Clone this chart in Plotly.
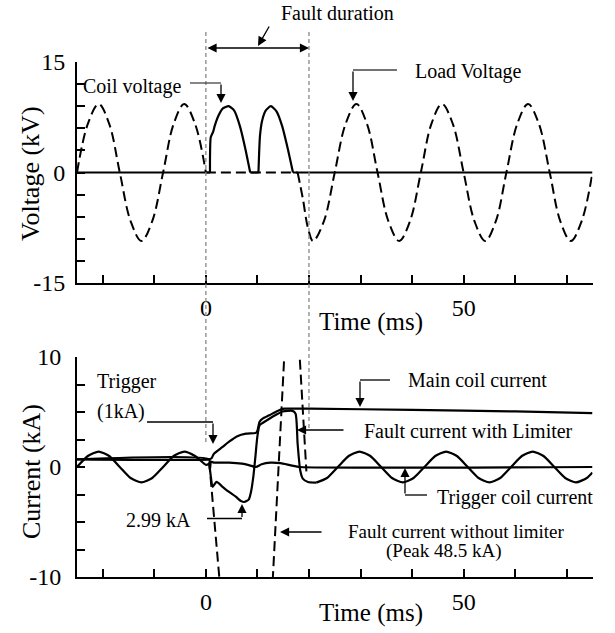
import plotly.graph_objects as go

# ---------------- data ----------------
# Top panel: load voltage (dashed), kV
load_v_pre_t = [-25, -22.9, -20.8, -18.75, -16.7, -14.6, -12.5, -10.4, -8.3, -6.25, -4.2, -2.1, 0]
load_v_pre = [0, 6.6, 9.3, 6.6, 0, -6.6, -9.3, -6.6, 0, 6.6, 9.3, 6.6, 0]
load_v_fault_t = [0, 17.8]
load_v_fault = [0, 0]
load_v_post_t = [17.8, 18.8, 19.8, 20.8, 22.9, 25, 27.1, 29.2, 31.25, 33.3, 35.4, 37.5, 39.6,
                 41.7, 43.75, 45.8, 47.9, 50, 52.1, 54.2, 56.25, 58.3, 60.4, 62.5, 64.6, 66.7,
                 68.75, 70.8, 72.9, 75]
load_v_post = [0, -3.5, -7.5, -9.3, -6.6, 0, 6.6, 9.3, 6.6, 0, -6.6, -9.3, -6.6,
               0, 6.6, 9.3, 6.6, 0, -6.6, -9.3, -6.6, 0, 6.6, 9.3, 6.6, 0,
               -6.6, -9.3, -6.6, 0]

# Coil voltage (solid), kV
coil_v_flat1_t = [-25, 0.8]
coil_v_flat1 = [0, 0]
coil_v_hump1_t = [0.8, 0.95, 1.4, 1.7, 2.5, 3.3, 4.4, 5.5, 6.6, 7.6, 8.6]
coil_v_hump1 = [0, 4.8, 5.5, 6.3, 7.8, 8.7, 9.0, 8.4, 6.3, 3.4, 0]
coil_v_flat2_t = [8.6, 10.2]
coil_v_flat2 = [0, 0]
coil_v_hump2_t = [10.2, 10.5, 10.9, 11.6, 12.6, 13.7, 14.8, 15.9, 16.9]
coil_v_hump2 = [0, 5.0, 7.0, 8.4, 9.0, 8.3, 6.3, 3.2, 0]
coil_v_flat3_t = [16.9, 75]
coil_v_flat3 = [0, 0]

# Bottom panel: fault current with limiter (solid), kA
flim_pre_t = [-25, -22.9, -20.8, -18.75, -16.7, -14.6, -12.5, -10.4, -8.3, -6.25, -4.2, -2.1, 0, 0.65]
flim_pre = [0, 1.0, 1.4, 1.0, 0, -1.0, -1.4, -1.0, 0, 1.0, 1.4, 1.0, 0.2, 0.3]
flim_fault_t = [0.65, 0.97, 1.3, 2.07, 3.24, 4.5, 5.8, 6.8, 7.45, 8.3, 8.75, 9.2, 9.6, 9.98,
                10.4, 11.0, 12.0, 13.6, 14.9, 16.8, 17.4, 17.8, 18.3, 18.8, 19.8, 21.4]
flim_fault = [0.3, -0.9, -1.8, -1.36, -1.8, -2.27, -2.7, -3.09, -3.18, -2.97, -2.27, -0.9, 0.9, 2.73,
              3.79, 4.0, 4.3, 4.75, 5.05, 5.1, 4.85, 2.1, -0.3, -1.06, -1.36, -1.42]
flim_post_t = [21.4, 23.5, 25.6, 27.7, 29.8, 31.9, 34.0, 36.1, 38.2, 40.3, 42.4, 44.5, 46.6,
               48.7, 50.8, 52.9, 55.0, 57.1, 59.2, 61.3, 63.4, 65.5, 67.6, 69.7, 71.8, 73.9, 75]
flim_post = [-1.42, -1.0, 0, 1.0, 1.4, 1.0, 0, -1.0, -1.4, -1.0, 0, 1.0, 1.4,
             1.0, 0, -1.0, -1.4, -1.0, 0, 1.0, 1.4, 1.0, 0, -1.0, -1.4, -1.0, -0.5]

# Main coil current (solid), kA
main_t = [-25, 0.6, 1.1, 1.55, 3.24, 4.5, 6.1, 7.8, 9.7, 10.0, 10.4, 11.0, 12.3, 13.9, 15.2,
          17.5, 20, 40, 60, 75]
main_i = [0.7, 0.7, 0.8, 1.2, 1.82, 2.3, 2.8, 3.03, 3.1, 3.3, 4.1, 4.4, 4.7, 5.1, 5.3,
          5.3, 5.3, 5.2, 5.05, 4.9]

# Trigger coil current (solid), kA
trig_t = [-25, 0.6, 0.8, 1.0, 1.5, 4.5, 7.0, 8.5, 9.7, 10.8, 12.5, 14.5, 16.5, 18.3, 75]
trig_i = [0.7, 0.7, -0.2, 0.5, 0.4, 0.4, 0.3, 0.15, 0.0, 0.25, 0.4, 0.35, 0.15, 0.0, 0.0]

# Fault current without limiter (dashed), kA (peak 48.5 kA, off scale)
fnol_t = [0.65, 2.6, 4.0, 7.5, 10.5, 13.0, 15.2, 16.7, 18.2, 19.5]
fnol_i = [0.45, -10, -20, -48.5, -30, -10, 10, 16, 10, -0.4]

x_tick_vals = [-20, -10, 0, 10, 20, 30, 40, 50, 60, 70]
x_tick_text = ["", "", "0", "", "", "", "", "50", "", ""]
v_tick_vals = [-15, -12, -9, -6, -3, 0, 3, 6, 9, 12, 15]
v_tick_text = ["-15", "", "", "", "", "0", "", "", "", "", "15"]
i_tick_vals = [-10, -7.5, -5, -2.5, 0, 2.5, 5, 7.5, 10]
i_tick_text = ["-10", "", "", "", "0", "", "", "", "10"]

fault_start, fault_end = 0, 20

# ---------------- figure ----------------
W, H = 615, 633
FONT = "Liberation Serif"


def px(x):
    return x / W


def py(y):
    return 1 - y / H


fig = go.Figure()

solid = dict(color="black", width=2.2)
dashed = dict(color="black", width=2, dash="10px,5px")

for t, v in [(load_v_pre_t, load_v_pre), (load_v_post_t, load_v_post)]:
    fig.add_trace(go.Scatter(x=t, y=v, mode="lines", line=dict(dashed, shape="spline"),
                             xaxis="x", yaxis="y"))
fig.add_trace(go.Scatter(x=load_v_fault_t, y=load_v_fault, mode="lines", line=dashed,
                         xaxis="x", yaxis="y"))
for t, v in [(coil_v_flat1_t, coil_v_flat1), (coil_v_flat2_t, coil_v_flat2),
             (coil_v_flat3_t, coil_v_flat3)]:
    fig.add_trace(go.Scatter(x=t, y=v, mode="lines", line=solid, xaxis="x", yaxis="y"))
for t, v in [(coil_v_hump1_t, coil_v_hump1), (coil_v_hump2_t, coil_v_hump2)]:
    fig.add_trace(go.Scatter(x=t, y=v, mode="lines", line=dict(solid, shape="spline", smoothing=0.6),
                             xaxis="x", yaxis="y"))

# bottom panel
fig.add_trace(go.Scatter(x=fnol_t, y=fnol_i, mode="lines", line=dashed, xaxis="x2", yaxis="y2"))
fig.add_trace(go.Scatter(x=main_t, y=main_i, mode="lines", line=dict(solid, shape="spline", smoothing=0.5),
                         xaxis="x2", yaxis="y2"))
fig.add_trace(go.Scatter(x=trig_t, y=trig_i, mode="lines", line=dict(solid, shape="spline", smoothing=0.5),
                         xaxis="x2", yaxis="y2"))
for t, v in [(flim_pre_t, flim_pre), (flim_fault_t, flim_fault), (flim_post_t, flim_post)]:
    fig.add_trace(go.Scatter(x=t, y=v, mode="lines", line=dict(solid, shape="spline", smoothing=0.6),
                             xaxis="x2", yaxis="y2"))

axis_common = dict(showline=True, linecolor="black", linewidth=2, ticks="inside", ticklen=8,
                   tickwidth=2, tickcolor="black", showgrid=False, zeroline=False,
                   tickfont=dict(family=FONT, size=24, color="black"), mirror=False,
                   automargin=False)

XL, XR = 77, 592.5
fig.update_layout(
    width=W, height=H, margin=dict(l=0, r=0, t=0, b=0, pad=0, autoexpand=False),
    paper_bgcolor="white", plot_bgcolor="white", showlegend=False,
    xaxis=dict(axis_common, domain=[px(XL), px(XR)], range=[-25, 75], anchor="y",
               tickvals=x_tick_vals, ticktext=x_tick_text, ticklabelstandoff=2),
    yaxis=dict(axis_common, domain=[py(283), py(62)], range=[-15, 15], anchor="x",
               tickvals=v_tick_vals, ticktext=v_tick_text, ticklabelstandoff=5),
    xaxis2=dict(axis_common, domain=[px(XL), px(XR)], range=[-25, 75], anchor="y2",
                tickvals=x_tick_vals, ticktext=x_tick_text, ticklabelstandoff=2),
    yaxis2=dict(axis_common, domain=[py(577), py(357)], range=[-10, 10], anchor="x2",
                tickvals=i_tick_vals, ticktext=i_tick_text, ticklabelstandoff=9),
)

# fault-duration dotted lines
dot = dict(color="#888888", width=1.3, dash="4px,3px")
fig.add_shape(type="line", xref="x", yref="paper", x0=fault_start, x1=fault_start,
              y0=py(32), y1=py(445), line=dot)
fig.add_shape(type="line", xref="x", yref="paper", x0=fault_end, x1=fault_end,
              y0=py(32), y1=py(428), line=dot)

anns = []


def text(s, x, y, size=20, angle=0):
    anns.append(dict(text=s, x=px(x), y=py(y), xref="paper", yref="paper", showarrow=False,
                     xanchor="center", yanchor="middle", textangle=angle,
                     font=dict(family=FONT, size=size, color="black")))


def arrow(x0, y0, x1, y1, both=False):
    d = dict(text="", x=px(x1), y=py(y1), xref="paper", yref="paper", ax=x0 - x1, ay=y0 - y1,
             axref="pixel", ayref="pixel", showarrow=True, arrowhead=2, arrowsize=1.4,
             arrowwidth=1.3, arrowcolor="black", standoff=0, startstandoff=0)
    if both:
        d.update(arrowside="end+start", startarrowhead=2, startarrowsize=1.4)
    anns.append(d)


def seg(x0, y0, x1, y1, color="black", width=1.3):
    fig.add_shape(type="line", xref="paper", yref="paper", x0=px(x0), y0=py(y0), x1=px(x1),
                  y1=py(y1), line=dict(color=color, width=width))


# axis titles
text("Voltage (kV)", 31, 174, size=26, angle=-90)
text("Current (kA)", 31, 472, size=26, angle=-90)
text("Time (ms)", 371, 322, size=25)
text("Time (ms)", 371, 613, size=25)

# top annotations
text("Fault duration", 337, 13)
arrow(206, 48, 309, 48, both=True)
arrow(270, 25, 258, 46)
text("Coil voltage", 132, 87)
seg(190, 83, 221, 83, color="#444444")
arrow(221, 83, 221, 103)
text("Load Voltage", 468, 72)
seg(397, 70, 353, 70, color="#444444")
arrow(353, 70, 353, 101)

# bottom annotations
text("Trigger", 127, 381)
text("(1kA)", 121, 411)
seg(147, 422, 213, 422)
arrow(213, 422, 213, 444)
text("2.99 kA", 158, 520)
seg(207, 518.5, 242, 518.5)
arrow(242, 518.5, 242, 504)
text("Main coil current", 477, 380)
seg(390, 380, 360, 380)
arrow(360, 380, 360, 407)
text("Fault current with Limiter", 468, 431)
arrow(345, 430, 297, 430)
text("Trigger coil current", 515, 497)
seg(427, 495, 405, 495)
arrow(405, 495, 405, 468)
text("Fault current without limiter", 456, 531, size=19)
text("(Peak 48.5 kA)", 444, 551, size=19)
arrow(323, 532, 280, 532)

fig.update_layout(annotations=anns)
fig.write_html("out.html", config={"displayModeBar": False},
               post_script="document.body.style.margin='0';document.body.style.overflow='hidden';")
